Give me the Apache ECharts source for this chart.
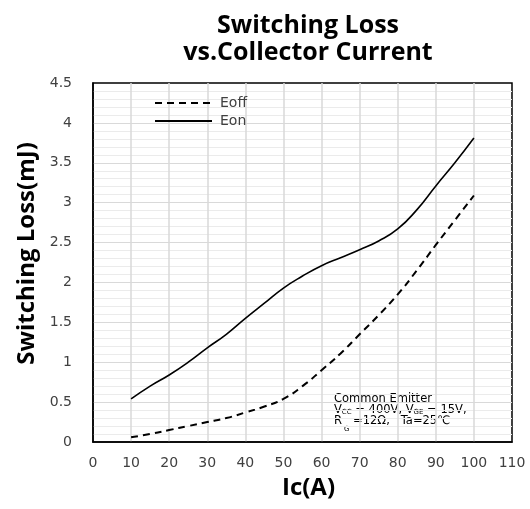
<!DOCTYPE html>
<html>
<head>
<meta charset="utf-8">
<script src="https://cdn.jsdelivr.net/npm/echarts@6/dist/echarts.min.js"></script>
<style>html,body{margin:0;padding:0;background:#fff;}#main{width:530px;height:509px;}</style>
</head>
<body>
<div id="main"></div>
<script>
const currents = [10,15,20,25,30,35,40,45,50,55,60,65,70,75,80,85,90,95,100];
const eon  = [0.54,0.70,0.84,1.00,1.18,1.35,1.55,1.74,1.93,2.08,2.21,2.31,2.41,2.52,2.67,2.91,3.21,3.50,3.81];
const eoff = [0.06,0.10,0.15,0.20,0.25,0.30,0.37,0.445,0.54,0.70,0.90,1.11,1.35,1.59,1.85,2.15,2.47,2.78,3.09];
const seriesNames = ['Eoff','Eon'];
const titleText = 'Switching Loss\nvs.Collector Current';
const xName = 'Ic(A)';
const yName = 'Switching Loss(mJ)';

const chart = echarts.init(document.getElementById('main'), null, {renderer:'canvas'});
const pair = (xs, ys) => xs.map((x,i)=>[x, ys[i]]);
const tickFont = {fontFamily:'DejaVu Sans', fontSize:14, color:'#404040'};
chart.setOption({
  backgroundColor:'#fff',
  animation:false,
  title:{
    text:titleText, left:303, top:7, textAlign:'center',
    textStyle:{fontFamily:'Open Sans', fontWeight:'bold', fontSize:25, lineHeight:27, color:'#000'}
  },
  grid:{left:93, right:18, top:83, bottom:67, show:true, borderColor:'#000', borderWidth:1.5, backgroundColor:'transparent'},
  legend:{
    data:seriesNames, orient:'vertical', left:149, top:91, itemWidth:57, itemHeight:14, itemGap:4,
    itemStyle:{opacity:0},
    textStyle:{fontFamily:'DejaVu Sans', fontSize:14, color:'#404040', padding:[0,0,0,3]}
  },
  xAxis:{
    type:'value', min:0, max:110, interval:10,
    name:xName, nameLocation:'middle', nameGap:34,
    nameTextStyle:{fontFamily:'Open Sans', fontWeight:'bold', fontSize:24, color:'#000', padding:[0,0,0,12]},
    axisLine:{show:true, lineStyle:{color:'#000', width:1.5}},
    axisTick:{show:false},
    axisLabel:Object.assign({margin:14}, tickFont),
    splitLine:{show:true, showMinLine:false, showMaxLine:false, lineStyle:{color:'#d9d9d9', width:1.5}}
  },
  yAxis:{
    type:'value', min:0, max:4.5, interval:0.5,
    name:yName, nameLocation:'middle', nameGap:54,
    nameTextStyle:{fontFamily:'Open Sans', fontWeight:'bold', fontSize:24, color:'#000', padding:[0,0,0,18]},
    axisLine:{show:true, lineStyle:{color:'#000', width:1.5}},
    axisTick:{show:false},
    axisLabel:Object.assign({margin:21}, tickFont),
    splitLine:{show:true, showMinLine:false, showMaxLine:false, lineStyle:{color:'#d9d9d9', width:1.2}},
    minorTick:{show:false, splitNumber:5},
    minorSplitLine:{show:true, lineStyle:{color:'#ebebeb', width:1}}
  },
  series:[
    {name:'Eoff', type:'line', data:pair(currents, eoff), smooth:0.5, symbol:'none',
     lineStyle:{color:'#000', width:2, type:[7,5]}, itemStyle:{color:'#000'}},
    {name:'Eon', type:'line', data:pair(currents, eon), smooth:0.5, symbol:'none',
     lineStyle:{color:'#000', width:1.6, type:'solid'}, itemStyle:{color:'#000'}}
  ],
  graphic:[{
    type:'text', left:334, top:393,
    style:{
      text:'{n|Common Emitter}\n{n|V}{s|CC}{n| = 400V, V}{s|GE}{n| = 15V,}\n{n|R}{g|G}{n| =12Ω,   Ta=25℃}',
      rich:{
        n:{fontFamily:'DejaVu Sans', fontSize:11.5, color:'#222', lineHeight:11},
        s:{fontFamily:'DejaVu Sans', fontSize:7, color:'#222', lineHeight:11, padding:[4,0,0,0]},
        g:{fontFamily:'DejaVu Sans', fontSize:7, color:'#222', lineHeight:11, padding:[16,0,0,2]}
      }
    }
  }]
});
</script>
</body>
</html>
